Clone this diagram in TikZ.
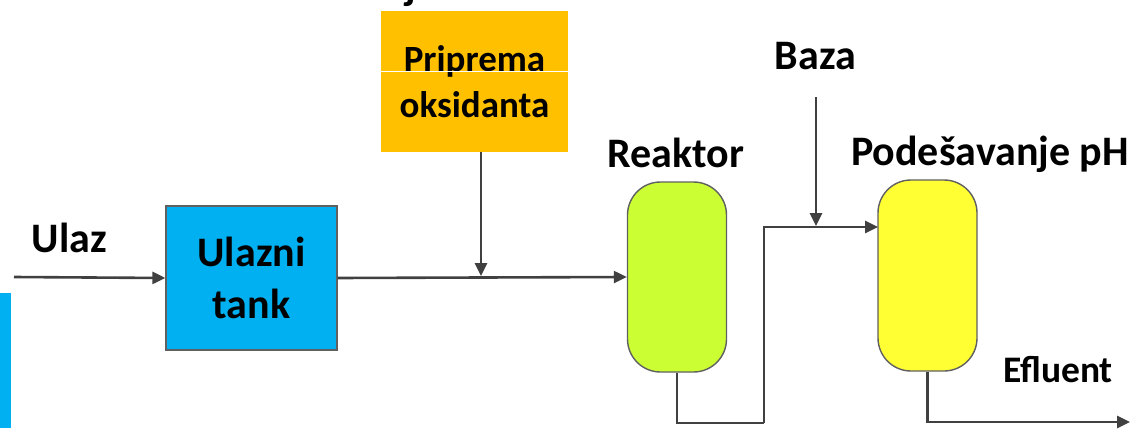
\documentclass[tikz,border=0pt]{standalone}
\usepackage{fontspec}
\setmainfont{Carlito}
\usetikzlibrary{arrows.meta,calc}
\definecolor{tankcyan}{HTML}{00B0F0}
\definecolor{oxorange}{HTML}{FFC000}
\definecolor{reactorgreen}{HTML}{CCFF33}
\definecolor{phyellow}{HTML}{FFFF33}
\definecolor{pipegray}{HTML}{404040}
\definecolor{edgegray}{HTML}{606060}
\tikzset{
  lbl/.style={font=\fontsize{42}{50}\selectfont\bfseries, inner sep=0pt, anchor=base},
  lblsmall/.style={font=\fontsize{37.5}{45}\selectfont\bfseries, inner sep=0pt, anchor=base},
  pipe/.style={draw=pipegray, line width=2.6pt},
  flow/.style={pipe, -{Triangle[length=13pt,width=12pt]}},
  vessel/.style={draw=edgegray, line width=1.4pt, rounded corners=33pt, minimum width=99pt, inner sep=0pt},
}
\begin{document}
\begin{tikzpicture}[x=1pt,y=-1pt]
\useasboundingbox (0,0) rectangle (1131,428);
% left cyan strip
\fill[tankcyan] (0,293) rectangle (11,428);
% top letter fragment
\node[lbl] (frag) at (411,0) {j};
% inlet tank
\node[draw=edgegray, line width=1.2pt, fill=tankcyan, minimum width=171pt, minimum height=144pt, inner sep=0pt,
      align=center, font=\fontsize{42}{52}\selectfont\bfseries] (tank) at (251.5,278) {Ulazni\\tank};
% oxidant preparation
\node[fill=oxorange, minimum width=187pt, minimum height=141pt, inner sep=0pt,
      align=center, font=\fontsize{37}{46}\selectfont\bfseries] (ox) at (474.5,81.5) {Priprema\\oksidanta};
\draw[white, line width=1pt] (ox.west |- 0,71) -- (ox.east |- 0,71);
% reactor and pH vessel
\node[vessel, fill=reactorgreen, minimum height=190pt] (R) at (677,277) {};
\node[vessel, fill=phyellow, minimum height=191pt] (T) at (927.5,275.5) {};
% labels
\node[lbl] (ulaz) at (69.5,252) {Ulaz};
\node[lbl] (reak) at (676,167) {Reaktor};
\node[lbl] (baza) at (815.5,70) {Baza};
\node[lbl] (podes) at (990,165) {Podešavanje pH};
\node[lblsmall] (efl) at (1058,382) {Efluent};
% coordinates
\coordinate (in) at (14,277);
\coordinate (j1) at (481,276);
\coordinate (c1) at (764,423);
\coordinate (pin) at (878,227);
\coordinate (btop) at (816,97);
\coordinate (j2) at (816,226);
\coordinate (eout) at (1130,422);
% connectors
\draw[flow] (in) -- (tank.west);
\draw[flow] (tank.east) -- (R.west);
\draw[flow] (ox.south -| j1) -- (j1);
\draw[pipe] (R.south) |- (c1);
\draw[flow] (c1) |- (pin);
\draw[flow] (btop) -- (j2);
\draw[flow] (T.south) |- (eout);
\end{tikzpicture}
\end{document}
